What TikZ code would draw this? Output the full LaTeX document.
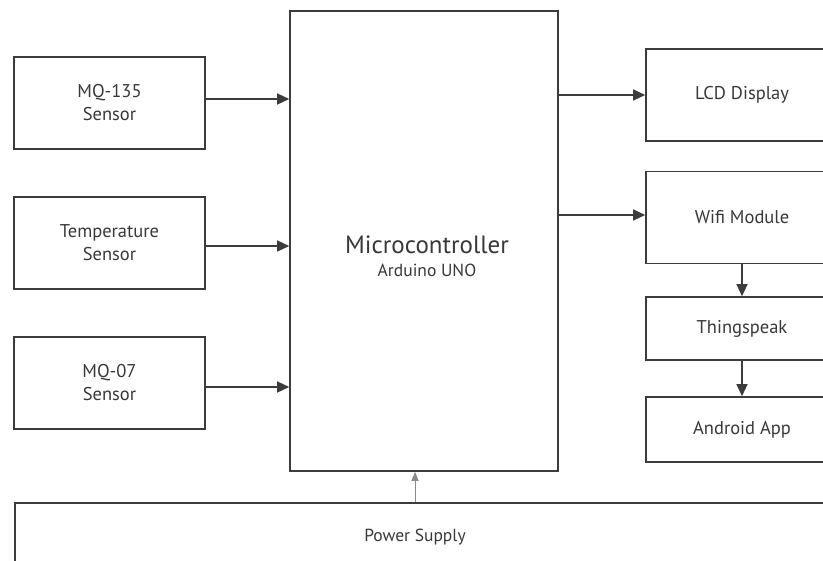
\documentclass[tikz,border=0pt]{standalone}
\usepackage{fontspec}
\setmainfont{PT Sans}
\usetikzlibrary{arrows.meta}
\definecolor{linegray}{HTML}{3C3C3C}
\definecolor{textgray}{HTML}{383838}
\definecolor{powergray}{HTML}{8A8A8A}

\tikzset{
  blockbox/.style={draw=linegray, line width=1.6pt, minimum width=191pt, minimum height=92pt, inner sep=0pt, align=center, text=textgray, font=\fontsize{18.5}{23}\selectfont},
  rightbox/.style={blockbox, minimum width=192pt},
  flow/.style={draw=linegray, line width=1.3pt, -{Triangle[length=12pt, width=11pt]}},
}

\begin{document}
\begin{tikzpicture}[x=1pt, y=-1pt] %air quality monitor
\clip (0,0) rectangle (823,561);
\useasboundingbox (0,0) rectangle (823,561);
% sensors
\node[blockbox] (mq135) at (109.5,103) {MQ-135\\Sensor};
\node[blockbox] (temp) at (109.5,243) {Temperature\\Sensor};
\node[blockbox] (mq07) at (109.5,383) {MQ-07\\Sensor};
% controller
\node[draw=linegray, line width=1.6pt, minimum width=268pt, minimum height=460pt] (micro) at (424,241) {};
\node[text=textgray, align=center, font=\fontsize{25}{26}\selectfont] (microlabel) at (427,256) {Microcontroller\\[-3pt]{\fontsize{17.5}{19}\selectfont Arduino UNO}};
% outputs
\node[rightbox] (lcd) at (742,95) {LCD Display};
\node[rightbox] (wifi) at (742,217.5) {Wifi Module};
\node[rightbox, minimum height=63pt] (thing) at (742,328.5) {Thingspeak};
\node[rightbox, minimum height=65pt] (android) at (742,429.5) {Android App};
% power
\node[blockbox, minimum width=900pt, minimum height=120pt, anchor=north west] (power) at (14,502) {};
\node[text=textgray, font=\fontsize{17.5}{20}\selectfont] (powerlabel) at (415,537) {Power Supply};

\draw[flow] ([yshift=4pt]mq135.east) -- ([yshift=4pt]mq135.east -| micro.west);
\draw[flow] ([yshift=-3pt]temp.east) -- ([yshift=-3pt]temp.east -| micro.west);
\draw[flow] ([yshift=-4pt]mq07.east) -- ([yshift=-4pt]mq07.east -| micro.west);
\draw[flow] (lcd.west -| micro.east) -- (lcd.west);
\draw[flow] ([yshift=2.5pt]wifi.west -| micro.east) -- ([yshift=2.5pt]wifi.west);
\draw[flow] (wifi) -- (thing);
\draw[flow] (thing) -- (android);
\draw[draw=powergray, line width=0.9pt, -{Triangle[length=9pt, width=7pt]}] (power.north -| 415,0) -- (micro.south -| 415,0);
\end{tikzpicture}
\end{document}
